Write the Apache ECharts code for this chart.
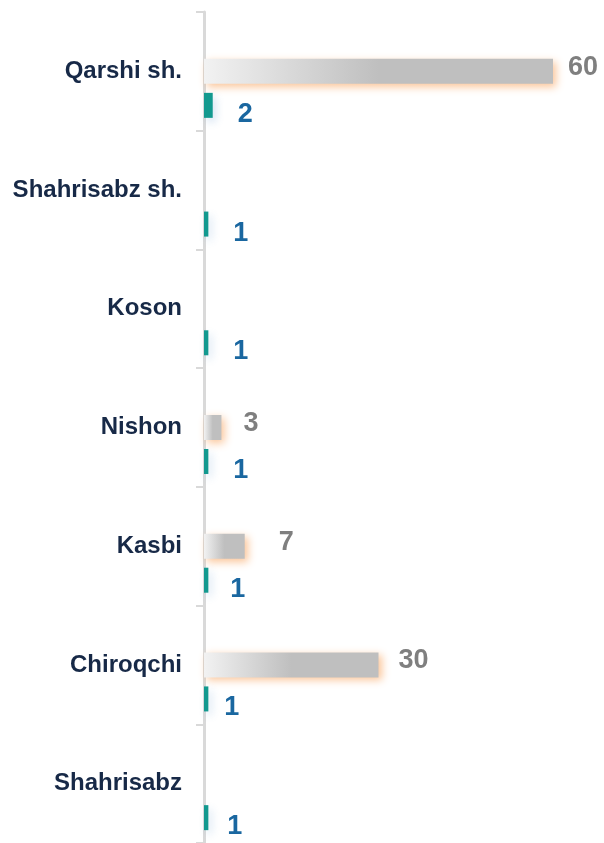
<!DOCTYPE html>
<html>
<head>
<meta charset="utf-8">
<script src="https://cdn.jsdelivr.net/npm/echarts@6/dist/echarts.min.js"></script>
<style>
  html, body { margin: 0; padding: 0; background: #fff; }
  #chart { width: 604px; height: 843px; }
</style>
</head>
<body>
<div id="chart"></div>
<script>
// categories, top to bottom
const districts = ['Qarshi sh.', 'Shahrisabz sh.', 'Koson', 'Nishon', 'Kasbi', 'Chiroqchi', 'Shahrisabz'];
// gray series (empty where no bar is drawn)
const grayValues = [60, null, null, 3, 7, 30, null];
// teal series (drawn on its own, narrower scale)
const tealValues = [2, 1, 1, 1, 1, 1, 1];

// small per-label nudges to follow the picture
const grayLabelShift = [-5, 0, 0, 2, 14, 0, 0];
const tealLabelShift = [0, 0, 0, 0, -3, -9, -6];

const chart = echarts.init(document.getElementById('chart'));

const font = '"Liberation Sans", Arial, sans-serif';

const option = {
  backgroundColor: '#fff',
  animation: false,
  grid: { left: 204, right: 51, top: 12, bottom: -8, containLabel: false },
  xAxis: [
    { type: 'value', min: 0, max: 60, show: false },
    { type: 'value', min: 0, max: 80, show: false }
  ],
  yAxis: {
    type: 'category',
    data: districts,
    inverse: true,
    axisLine: { lineStyle: { color: '#d9d9d9', width: 3 } },
    axisTick: { show: true, length: 8, lineStyle: { color: '#d9d9d9', width: 2 } },
    axisLabel: {
      margin: 22,
      color: '#172947',
      fontFamily: font,
      fontWeight: 'bold',
      fontSize: 24
    }
  },
  series: [
    {
      // spacer so the gray bar sits in the middle of each band
      type: 'bar',
      data: districts.map(() => null),
      barWidth: 25,
      barGap: '36%',
      silent: true
    },
    {
      type: 'bar',
      data: grayValues.map((v, i) => ({
        value: v,
        label: { offset: [grayLabelShift[i], -4] }
      })),
      barWidth: 25,
      barGap: '36%',
      itemStyle: {
        color: new echarts.graphic.LinearGradient(0, 0, 1, 0, [
          { offset: 0, color: '#f2f2f2' },
          { offset: 0.5, color: '#bfbfbf' },
          { offset: 1, color: '#bfbfbf' }
        ]),
        shadowColor: 'rgba(247,150,70,0.55)',
        shadowBlur: 8,
        shadowOffsetX: 3,
        shadowOffsetY: 3
      },
      label: {
        show: true,
        position: 'right',
        distance: 20,
        color: '#7f7f7f',
        fontFamily: font,
        fontWeight: 'bold',
        fontSize: 27
      }
    },
    {
      type: 'bar',
      xAxisIndex: 1,
      data: tealValues.map((v, i) => ({
        value: v,
        label: { offset: [tealLabelShift[i], 9] }
      })),
      barWidth: 25,
      barGap: '36%',
      itemStyle: {
        color: '#12998f',
        shadowColor: 'rgba(80,140,200,0.25)',
        shadowBlur: 8,
        shadowOffsetX: 3,
        shadowOffsetY: 4
      },
      label: {
        show: true,
        position: 'right',
        distance: 25,
        color: '#1a67a0',
        fontFamily: font,
        fontWeight: 'bold',
        fontSize: 27
      }
    }
  ]
};

chart.setOption(option);
</script>
</body>
</html>
